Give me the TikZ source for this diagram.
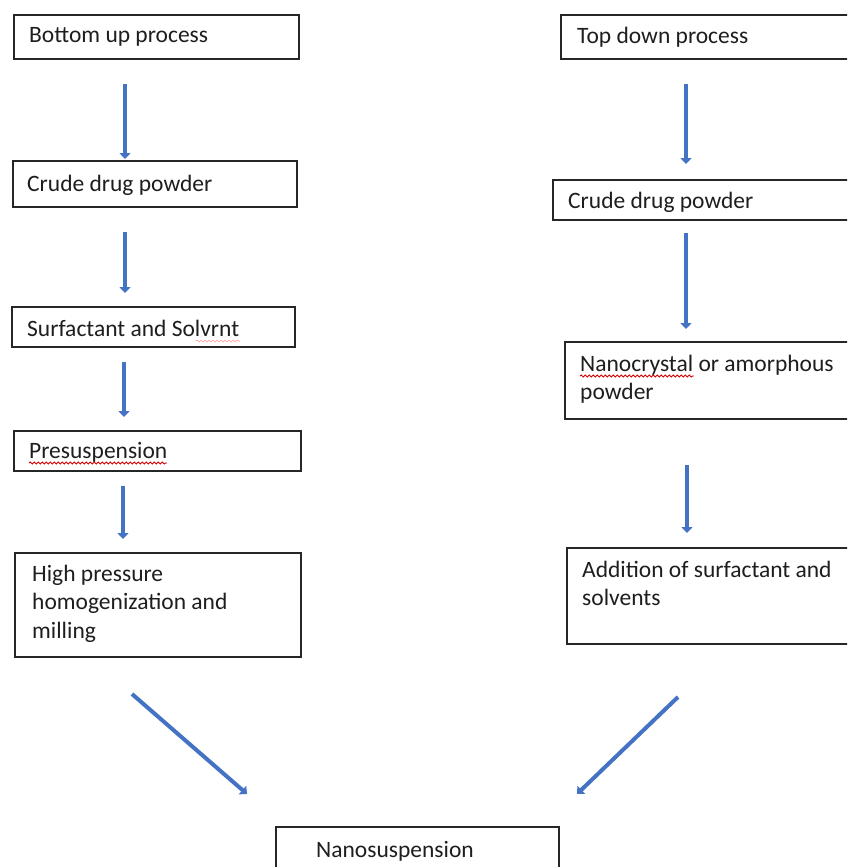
\documentclass[tikz,border=0pt]{standalone}
\usepackage{fontspec}
\setmainfont{Carlito}
\usetikzlibrary{arrows.meta,decorations.pathmorphing}
\definecolor{arrblue}{HTML}{4472C4}
\definecolor{boxline}{HTML}{262626}
\definecolor{txtcol}{HTML}{1E1E1E}
\begin{document}
\begin{tikzpicture}[x=1pt,y=-1pt,
  box/.style={draw=boxline,line width=1.6pt,fill=white,rectangle,inner sep=0pt,anchor=north west},
  txt/.style={anchor=base west,inner sep=0pt,text=txtcol,font=\fontsize{23.5}{28.5}\selectfont,align=left},
  arr/.style={draw=arrblue,line width=4pt,-{Triangle[width=11pt,length=6pt]}},
  squig/.style={draw=red!85!black,line width=0.9pt,decorate,decoration={snake,amplitude=1pt,segment length=4pt}}]
\path[use as bounding box,clip] (0,0) rectangle (847,867);
\fill[white] (0,0) rectangle (847,867);
% left column boxes
\node[box,minimum width=285pt,minimum height=44pt] (b1) at (13,14) {};
\node[txt] (t1) at (29,43) {Bottom up process};
\node[box,minimum width=284pt,minimum height=46pt] (b2) at (12,160) {};
\node[txt] (t2) at (27,191) {Crude drug powder};
\node[box,minimum width=283pt,minimum height=40pt] (b3) at (11,306) {};
\node[txt] (t3) at (27,336) {Surfactant and Solvrnt};
\node[box,minimum width=287pt,minimum height=40pt] (b4) at (13,430) {};
\node[txt] (t4) at (29,458) {Presuspension};
\node[box,minimum width=286pt,minimum height=104pt] (b5) at (14,552) {};
\node[txt] (t5) at (32,638) {High pressure\\homogenization and\\milling};
% right column boxes
\node[box,minimum width=300pt,minimum height=44pt] (r1) at (560,14) {};
\node[txt] (s1) at (577,44) {Top down process};
\node[box,minimum width=310pt,minimum height=40pt] (r2) at (552,179) {};
\node[txt] (s2) at (568,208) {Crude drug powder};
\node[box,minimum width=300pt,minimum height=77pt] (r3) at (564,341) {};
\node[txt] (s3) at (580,399.5) {Nanocrystal or amorphous\\powder};
\node[box,minimum width=300pt,minimum height=96pt] (r4) at (566,547) {};
\node[txt] (s4) at (582,605.5) {Addition of surfactant and\\solvents};
% bottom box
\node[box,minimum width=283pt,minimum height=60pt] (n) at (275,826) {};
\node[txt] (nt) at (316,857) {Nanosuspension};
% spell-check squiggles
\draw[squig] (29,463) -- (167,463);
\draw[squig] (580,376) -- (694,376);
\draw[squig,draw=red!40,line width=0.6pt] (196,341) -- (240,341);
% arrow end points
\coordinate (a1s) at (125,84);  \coordinate (a1e) at (125,159);
\coordinate (a2s) at (125,232); \coordinate (a2e) at (125,293);
\coordinate (a3s) at (124,362); \coordinate (a3e) at (124,417);
\coordinate (a4s) at (123,486); \coordinate (a4e) at (123,539);
\coordinate (c1s) at (686,84);  \coordinate (c1e) at (686,164);
\coordinate (c2s) at (686,233); \coordinate (c2e) at (686,329);
\coordinate (c3s) at (687,465); \coordinate (c3e) at (687,533);
\coordinate (d1s) at (132,694); \coordinate (d1e) at (247,794);
\coordinate (d2s) at (678,697); \coordinate (d2e) at (577,794);
\draw[arr] (a1s) -- (a1e);
\draw[arr] (a2s) -- (a2e);
\draw[arr] (a3s) -- (a3e);
\draw[arr] (a4s) -- (a4e);
\draw[arr] (c1s) -- (c1e);
\draw[arr] (c2s) -- (c2e);
\draw[arr] (c3s) -- (c3e);
\draw[arr] (d1s) -- (d1e);
\draw[arr] (d2s) -- (d2e);
\end{tikzpicture}
\end{document}
